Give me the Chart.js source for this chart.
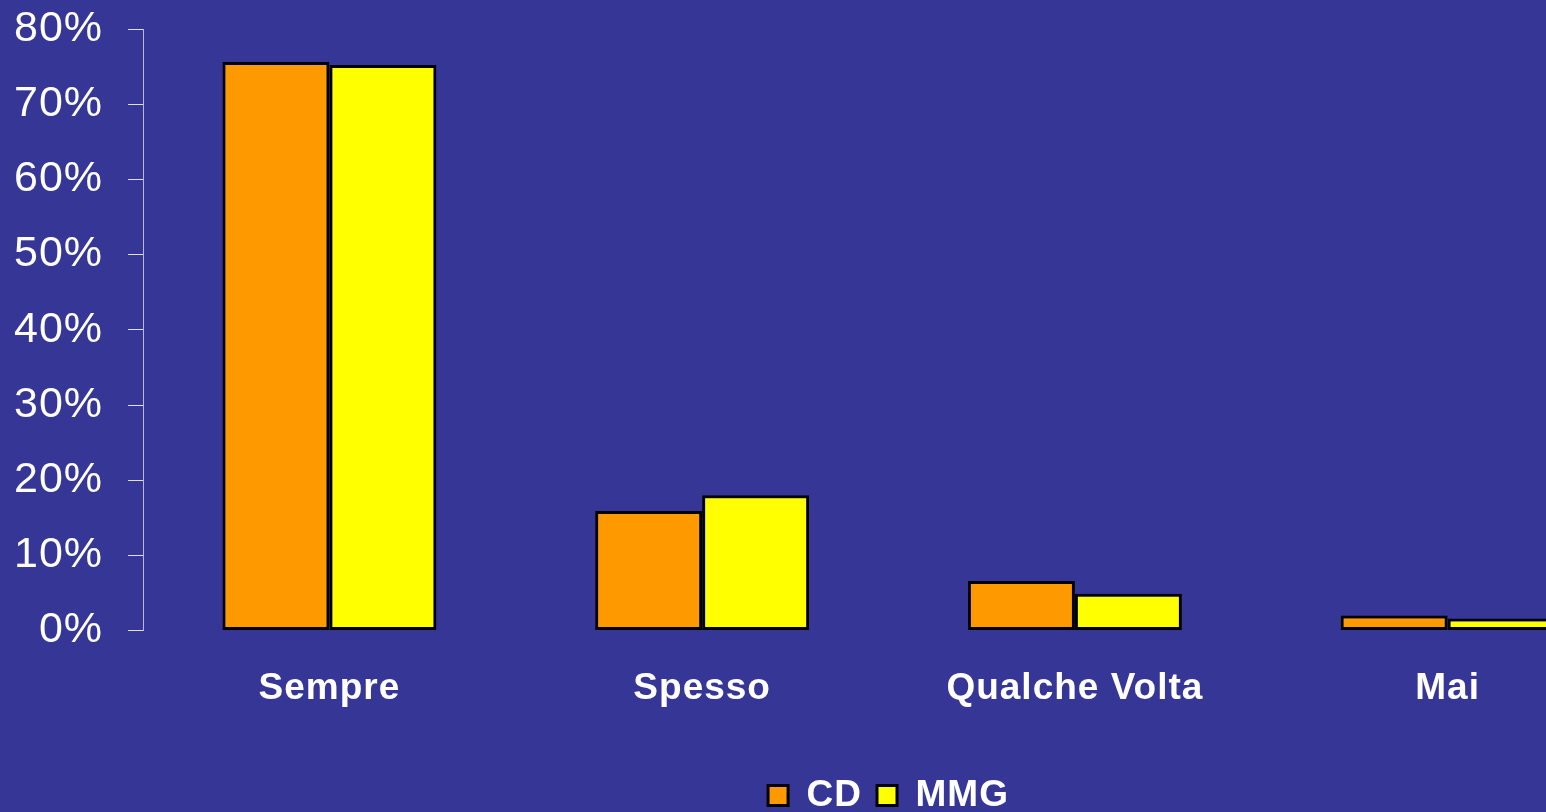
<!DOCTYPE html>
<html>
<head>
<meta charset="utf-8">
<script src="https://cdn.jsdelivr.net/npm/chart.js@4"></script>
<style>
  html, body { margin: 0; padding: 0; background: #363696; overflow: hidden; }
  #wrap { width: 1772px; height: 812px; position: relative; }
</style>
</head>
<body>
<div id="wrap"><canvas id="chart"></canvas></div>
<script>
const categories = ["Sempre", "Spesso", "Qualche Volta", "Mai"];
const cdValues = [75.6, 15.9, 6.6, 2.0];
const mmgValues = [75.2, 18.0, 4.9, 1.6];
const yTicks = [0, 10, 20, 30, 40, 50, 60, 70, 80];
const FONT = "'Liberation Sans', Arial, sans-serif";

const bgPlugin = {
    id: "bg",
    beforeDraw(chart) {
        const c = chart.ctx;
        c.save();
        c.fillStyle = "#363696";
        c.fillRect(0, 0, chart.width, chart.height);
        c.restore();
        c.letterSpacing = "1px";
    },
    afterLayout(chart) {
        // legend is centred on the slide, not on the clipped chart area
        const lg = chart.legend;
        const d = 886 - (lg.left + lg.right) / 2;
        lg.left += d;
        lg.right += d;
    }
};

const ctx = document.getElementById("chart").getContext("2d");
new Chart(ctx, {
    type: "bar",
    data: {
        labels: categories,
        datasets: [
            { label: "CD", data: cdValues, backgroundColor: "#ff9900", borderColor: "#000", borderWidth: 3, borderSkipped: false },
            { label: "MMG", data: mmgValues, backgroundColor: "#ffff00", borderColor: "#000", borderWidth: 3, borderSkipped: false }
        ]
    },
    options: {
        responsive: true,
        maintainAspectRatio: false,
        animation: false,
        datasets: { bar: { barPercentage: 1, categoryPercentage: 0.574 } },
        layout: { padding: { left: -8, right: 138, top: 29, bottom: -12 } },
        scales: {
            y: {
                min: 0, max: 80,
                afterBuildTicks: (s) => { s.ticks = yTicks.map(v => ({ value: v })); },
                afterFit: (s) => { s.paddingTop = 0; s.paddingBottom = 0; },
                border: { color: "#b8b8e0", width: 1 },
                grid: { drawOnChartArea: false, color: "#e0e0f0", tickLength: 15 },
                ticks: {
                    color: "#ffffff", padding: 25,
                    font: { family: FONT, size: 43 },
                    callback: (v) => v + "%"
                }
            },
            x: {
                afterFit: (s) => { s.height += 23; },
                border: { display: false },
                grid: { display: false },
                ticks: {
                    color: "#ffffff", padding: 28,
                    font: { family: FONT, size: 37, weight: "bold" }
                }
            }
        },
        plugins: {
            tooltip: { enabled: false },
            legend: {
                position: "bottom",
                labels: {
                    color: "#ffffff",
                    boxWidth: 20, boxHeight: 20,
                    padding: 15,
                    font: { family: FONT, size: 37, weight: "bold" }
                }
            }
        }
    },
    plugins: [bgPlugin]
});
</script>
</body>
</html>
